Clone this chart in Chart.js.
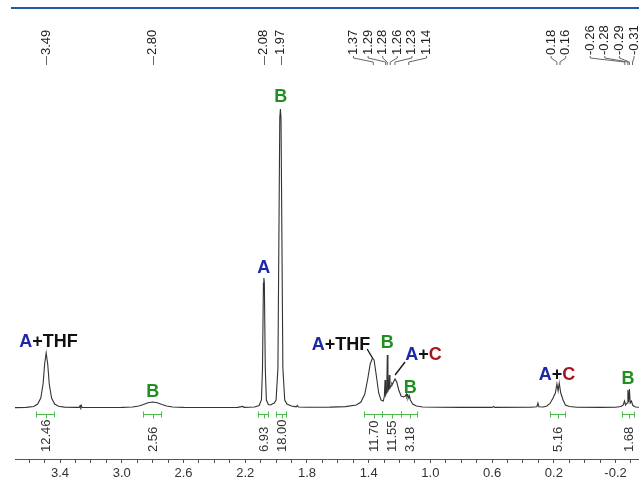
<!DOCTYPE html>
<html>
<head>
<meta charset="utf-8">
<script src="https://cdn.jsdelivr.net/npm/chart.js@4/dist/chart.umd.min.js"></script>
<style>
	html, body { margin: 0; padding: 0; background: #fff; }
	canvas { display: block; }
</style>
</head>
<body>
<canvas id="nmr-spectrum" width="639" height="483"></canvas>
<script>
// 1H spectrum: chemical shift (ppm) and intensity (arbitrary units)
const shiftPpm = [
	3.692, 3.62, 3.57, 3.545, 3.525, 3.51, 3.5, 3.49, 3.48, 3.47, 3.455, 3.435, 3.41, 3.37, 3.3,
	3.275, 3.27, 3.266, 3.262, 3.257, 3.2, 3.0, 2.93, 2.89, 2.86, 2.83, 2.8, 2.77, 2.74, 2.71,
	2.67, 2.6, 2.4, 2.25, 2.215, 2.208, 2.14, 2.11, 2.095, 2.088, 2.082, 2.079, 2.076, 2.07, 2.063,
	2.05, 2.035, 2.025, 2.012, 2.0, 1.988, 1.976, 1.972, 1.968, 1.956, 1.944, 1.93, 1.9, 1.87, 1.862,
	1.856, 1.8, 1.65, 1.55, 1.48, 1.45, 1.425, 1.405, 1.39, 1.375, 1.365, 1.35, 1.335, 1.32, 1.305,
	1.298, 1.294, 1.29, 1.283, 1.279, 1.275, 1.27, 1.266, 1.262, 1.255, 1.25, 1.245, 1.236, 1.229, 1.218,
	1.205, 1.19, 1.175, 1.162, 1.156, 1.152, 1.146, 1.14, 1.135, 1.13, 1.115, 1.09, 1.05, 0.95, 0.8,
	0.6, 0.59, 0.583, 0.35, 0.31, 0.303, 0.297, 0.27, 0.245, 0.225, 0.205, 0.19, 0.18, 0.172, 0.165,
	0.155, 0.14, 0.125, 0.1, 0.05, -0.1, -0.2, -0.235, -0.25, -0.258, -0.265, -0.275, -0.28, -0.285, -0.29,
	-0.295, -0.303, -0.312, -0.33, -0.352
]
const intensity = [
	0.4, 0.6, 1.5, 4, 10, 24, 44, 55, 44, 24, 10, 4, 1.8, 0.9, 0.6,
	0.6, 2.5, 0.8, 2.5, 0.6, 0.5, 0.6, 1, 2, 3.5, 5.3, 6, 5.3, 3.5, 2,
	1, 0.6, 0.5, 0.6, 1.6, 0.6, 1, 2.5, 8, 40, 125, 130, 125, 40, 8,
	3.5, 3, 4, 5, 8, 40, 290, 299, 290, 40, 8, 4, 2, 1.2, 2.5,
	1, 0.7, 0.9, 1.4, 3, 6, 14, 30, 44, 50, 48, 32, 15, 8, 7,
	12, 28, 13, 16, 53, 17, 19, 33, 20, 22, 25, 24, 27, 29, 26,
	18, 12, 11, 12, 14, 11, 13, 10, 12, 8, 4, 2, 1, 0.7, 0.6,
	0.6, 1.5, 0.6, 0.7, 1.3, 5, 1.3, 1, 2, 4.5, 10, 15, 24, 17, 25,
	15, 8, 3, 1.5, 0.8, 0.6, 0.7, 1.5, 3, 7, 3, 5, 18, 6, 19,
	5, 7, 2.5, 1, 0.7
]

const tickLabels = ['3.4', '3.0', '2.6', '2.2', '1.8', '1.4', '1.0', '0.6', '0.2', '-0.2']
const peakLabels = [3.49, 2.80, 2.08, 1.97, 1.37, 1.29, 1.28, 1.26, 1.23, 1.14, 0.18, 0.16, -0.26, -0.28, -0.29, -0.31]

const integralFrom = [3.556, 2.862, 2.117, 2.0, 1.43, 1.313, 1.19, 0.224, -0.242]
const integralTo = [3.44, 2.745, 2.052, 1.935, 1.313, 1.19, 1.086, 0.127, -0.32]
const integralValues = ['12.46', '2.56', '6.93', '18.00', '11.70', '11.55', '3.18', '5.16', '1.68']

const BLUE = '#1d28a8', GREEN = '#1f8f1f', RED = '#a3161b', BLACK = '#111'
const assignments = [
	{ ppm: 3.475, h: 61, parts: [['A', BLUE], ['+THF', BLACK]] },
	{ ppm: 2.80, h: 11, parts: [['B', GREEN]] },
	{ ppm: 2.08, h: 135, parts: [['A', BLUE]] },
	{ ppm: 1.97, h: 306, parts: [['B', GREEN]] },
	{ ppm: 1.579, h: 58, parts: [['A', BLUE], ['+THF', BLACK]], line: [1.41, 59, 1.375, 50] },
	{ ppm: 1.28, h: 60, parts: [['B', GREEN]] },
	{ ppm: 1.044, h: 48, parts: [['A', BLUE], ['+', BLACK], ['C', RED]], line: [1.164, 46, 1.229, 33] },
	{ ppm: 1.13, h: 15, parts: [['B', GREEN]] },
	{ ppm: 0.179, h: 28, parts: [['A', BLUE], ['+', BLACK], ['C', RED]] },
	{ ppm: -0.28, h: 24, parts: [['B', GREEN]] }
]

const $canvas = document.getElementById('nmr-spectrum'),
	FONT = '"Liberation Sans", Arial, sans-serif',
	LABEL_GAP = 14.6

const spectrumMarks = {
	id: 'spectrumMarks',
	afterDraw(chart) {
		const ctx = chart.ctx, x = chart.scales.x, y = chart.scales.y
		ctx.save()

		// blue rule at the top
		ctx.strokeStyle = '#1f5ba8'
		ctx.lineWidth = 2.2
		ctx.beginPath()
		ctx.moveTo(11, 8)
		ctx.lineTo(639, 8)
		ctx.stroke()

		// peak picking labels
		ctx.font = `13px ${FONT}`
		ctx.fillStyle = '#222'
		ctx.strokeStyle = '#666'
		ctx.lineWidth = 1
		const px = peakLabels.map(p => x.getPixelForValue(p)),
			groups = []
		px.forEach((p, i) => {
			const g = groups[groups.length - 1]
			if (g && p - px[g[g.length - 1]] < LABEL_GAP) g.push(i)
			else groups.push([i])
		})
		groups.forEach(g => {
			const mean = g.reduce((s, i) => s + px[i], 0) / g.length
			let start = mean - (g.length - 1) * LABEL_GAP / 2
			const end = start + (g.length - 1) * LABEL_GAP
			if (end > 634) start -= end - 634
			g.forEach((idx, k) => {
				const lx = g.length === 1 ? px[idx] : start + k * LABEL_GAP,
					pk = px[idx]
				ctx.save()
				ctx.translate(lx, 55)
				ctx.rotate(-Math.PI / 2)
				ctx.textAlign = 'left'
				ctx.textBaseline = 'middle'
				ctx.fillText(peakLabels[idx].toFixed(2), 0, 0)
				ctx.restore()
				ctx.beginPath()
				if (g.length === 1) {
					ctx.moveTo(Math.round(pk) + 0.5, 56)
					ctx.lineTo(Math.round(pk) + 0.5, 65)
				} else {
					ctx.moveTo(lx, 56)
					ctx.lineTo(lx, 58)
					ctx.lineTo(pk, 62)
					ctx.lineTo(pk, 65)
				}
				ctx.stroke()
			})
		})

		// integrals
		ctx.strokeStyle = '#4dbb4d'
		const yb = 414.5
		integralValues.forEach((val, i) => {
			const x1 = Math.round(x.getPixelForValue(integralFrom[i])) + 0.5,
				x2 = Math.round(x.getPixelForValue(integralTo[i])) + 0.5,
				xm = Math.round((x1 + x2) / 2) + 0.5
			ctx.beginPath()
			ctx.moveTo(x1, yb); ctx.lineTo(x2, yb)
			ctx.moveTo(x1, yb - 3); ctx.lineTo(x1, yb + 3)
			ctx.moveTo(x2, yb - 3); ctx.lineTo(x2, yb + 3)
			ctx.moveTo(xm, yb); ctx.lineTo(xm, yb + 4)
			ctx.stroke()
			ctx.save()
			ctx.fillStyle = '#333'
			ctx.translate(xm, 452)
			ctx.rotate(-Math.PI / 2)
			ctx.textAlign = 'left'
			ctx.textBaseline = 'middle'
			ctx.fillText(val, 0, 0)
			ctx.restore()
		})

		// assignments A / B / C
		ctx.font = `bold 18px ${FONT}`
		ctx.textBaseline = 'alphabetic'
		ctx.textAlign = 'left'
		assignments.forEach(a => {
			const total = a.parts.reduce((s, p) => s + ctx.measureText(p[0]).width, 0)
			let cx = x.getPixelForValue(a.ppm) - total / 2
			const cy = y.getPixelForValue(a.h)
			a.parts.forEach(([t, c]) => {
				ctx.fillStyle = c
				ctx.fillText(t, cx, cy)
				cx += ctx.measureText(t).width
			})
			if (a.line) {
				ctx.strokeStyle = '#111'
				ctx.lineWidth = 1.3
				ctx.beginPath()
				ctx.moveTo(x.getPixelForValue(a.line[0]), y.getPixelForValue(a.line[1]))
				ctx.lineTo(x.getPixelForValue(a.line[2]), y.getPixelForValue(a.line[3]))
				ctx.stroke()
			}
		})
		ctx.restore()
	}
}

const points = shiftPpm.map((p, i) => ({ x: p, y: intensity[i] }))

new Chart($canvas, {
	type: 'line',
	data: {
		datasets: [{
			data: points,
			borderColor: '#333',
			borderWidth: 1.1,
			pointRadius: 0,
			tension: 0,
			fill: false
		}]
	},
	options: {
		responsive: false,
		animation: false,
		events: [],
		layout: { padding: { left: 15, right: 0, top: 8, bottom: 0 } },
		plugins: { legend: { display: false }, tooltip: { enabled: false } },
		scales: {
			x: {
				type: 'linear',
				reverse: true,
				min: -0.352,
				max: 3.692,
				afterBuildTicks: scale => {
					const ticks = []
					for (let k = -3; k <= 36; k++) ticks.push({ value: k / 10 })
					scale.ticks = ticks
				},
				afterFit: scale => { scale.height = 24 },
				ticks: {
					autoSkip: false,
					maxRotation: 0,
					padding: 3,
					color: '#333',
					font: { family: FONT, size: 13 },
					callback: v => tickLabels.find(t => Math.abs(Number(t) - v) < 1e-6) || ''
				},
				grid: { drawOnChartArea: false, drawTicks: true, tickLength: 4, color: '#555' },
				border: { display: true, color: '#555', width: 1 }
			},
			y: {
				display: false,
				min: -51,
				max: 400
			}
		}
	},
	plugins: [spectrumMarks]
})
</script>
</body>
</html>
